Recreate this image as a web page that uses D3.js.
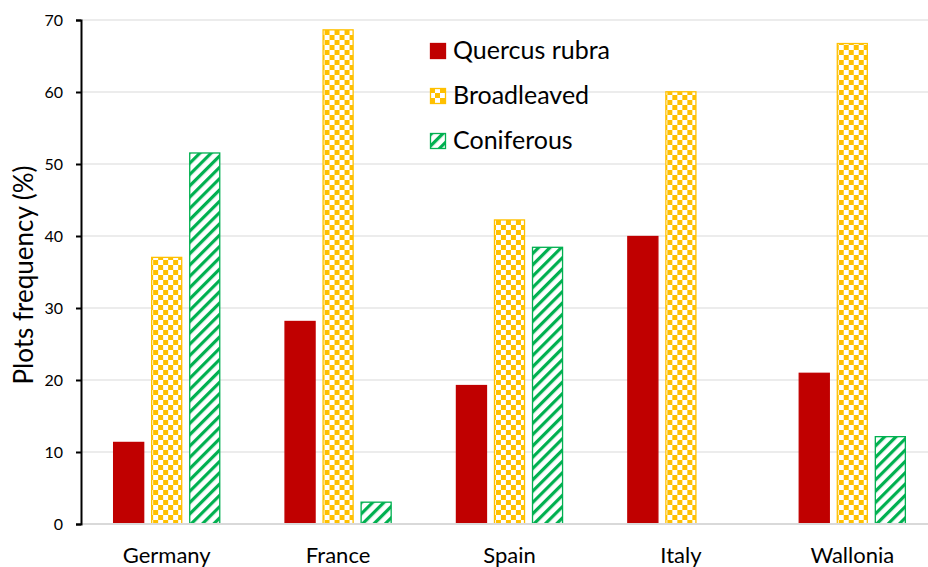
<!DOCTYPE html>
<html>
<head>
<meta charset="utf-8">
<script src="https://cdn.jsdelivr.net/npm/d3@7"></script>
<style>
    body { margin: 0; background: #fff; }
    text { font-family: Lato, "Open Sans", sans-serif; fill: #000; }
</style>
</head>
<body>
<svg id="chart" width="928" height="567"></svg>
<script>
const countries = ['Germany', 'France', 'Spain', 'Italy', 'Wallonia'];
const seriesNames = ['Quercus rubra', 'Broadleaved', 'Coniferous'];
const quercus = [11.4, 28.2, 19.3, 40.0, 21.0];
const broadleaved = [37.1, 68.7, 42.3, 60.1, 66.8];
const coniferous = [51.6, 3.1, 38.5, 0, 12.2];
const yTicks = [0, 10, 20, 30, 40, 50, 60, 70];

const values = [quercus, broadleaved, coniferous];
const fills = ['#C00000', 'url(#checks)', 'url(#stripes)'];
const strokes = ['#C00000', '#FFC000', '#00B050'];

const chart = d3.select('#chart');
const plotLeft = 81, plotRight = 938, plotTop = 20, plotBottom = 524;

const defs = chart.append('defs');
const checks = defs.append('pattern')
    .attr('id', 'checks')
    .attr('patternUnits', 'userSpaceOnUse')
    .attr('width', 10).attr('height', 10);
checks.append('rect').attr('width', 10).attr('height', 10).attr('fill', '#fff');
checks.append('rect').attr('width', 5).attr('height', 5).attr('fill', '#FFC000');
checks.append('rect').attr('x', 5).attr('y', 5).attr('width', 5).attr('height', 5).attr('fill', '#FFC000');

const stripes = defs.append('pattern')
    .attr('id', 'stripes')
    .attr('patternUnits', 'userSpaceOnUse')
    .attr('width', 8).attr('height', 8)
    .attr('patternTransform', 'rotate(45)');
stripes.append('rect').attr('width', 8).attr('height', 8).attr('fill', '#fff');
stripes.append('rect').attr('width', 3.2).attr('height', 8).attr('fill', '#00B050');

const y = d3.scaleLinear().domain([0, 70]).range([plotBottom, plotTop]);
const x = d3.scaleBand().domain(countries).range([plotLeft, plotRight])
    .paddingInner(0.375).paddingOuter(0.1875);
const xs = d3.scaleBand().domain(d3.range(3)).range([0, x.bandwidth()])
    .paddingInner(0.184).paddingOuter(0);

// gridlines
chart.append('g')
    .selectAll('line')
    .data(yTicks.slice(1))
    .enter().append('line')
    .attr('x1', plotLeft).attr('x2', 928)
    .attr('y1', d => y(d)).attr('y2', d => y(d))
    .attr('stroke', '#D9D9D9').attr('stroke-width', 1);

// bars
const group = chart.selectAll('g.country')
    .data(countries)
    .enter().append('g')
    .classed('country', true)
    .attr('transform', d => `translate(${x(d)},0)`);
group.selectAll('rect')
    .data((c, i) => values.map((v, s) => ({ s, v: v[i] })).filter(d => d.v > 0))
    .enter().append('rect')
    .attr('x', d => xs(d.s) + 0.5)
    .attr('y', d => y(d.v) + 0.5)
    .attr('width', xs.bandwidth() - 1)
    .attr('height', d => y(0) - y(d.v) - 0.5)
    .attr('fill', d => fills[d.s])
    .attr('stroke', d => strokes[d.s])
    .attr('stroke-width', 1.3);

// x baseline
chart.append('line')
    .attr('x1', plotLeft).attr('x2', 928)
    .attr('y1', plotBottom).attr('y2', plotBottom)
    .attr('stroke', '#D9D9D9').attr('stroke-width', 2);

// y axis
const yAxis = chart.append('g')
    .attr('transform', `translate(${plotLeft},0)`)
    .call(d3.axisLeft(y).tickValues(yTicks).tickSize(5).tickPadding(13));
yAxis.select('.domain').attr('stroke', '#000').attr('stroke-width', 2);
yAxis.selectAll('.tick line').attr('stroke', '#000').attr('stroke-width', 2);
yAxis.selectAll('.tick text').style('font-size', '16px').attr('fill', '#000');

// category labels
chart.append('g')
    .selectAll('text')
    .data(countries)
    .enter().append('text')
    .attr('x', d => x(d) + x.bandwidth() / 2)
    .attr('y', 563)
    .attr('text-anchor', 'middle')
    .style('font-size', '22px')
    .text(d => d);

// y title
chart.append('text')
    .attr('transform', 'translate(33,275) rotate(-90)')
    .attr('text-anchor', 'middle')
    .style('font-size', '26px')
    .text('Plots frequency (%)');

// legend
const legend = chart.append('g')
    .selectAll('g')
    .data(seriesNames)
    .enter().append('g')
    .attr('transform', (_, i) => `translate(430,${43 + i * 45})`);
legend.append('rect')
    .attr('x', 0.5).attr('y', 0.5)
    .attr('width', 15).attr('height', 15)
    .attr('fill', (_, i) => fills[i])
    .attr('stroke', (_, i) => strokes[i])
    .attr('stroke-width', 1.3);
legend.append('text')
    .attr('x', 23)
    .attr('y', 16)
    .style('font-size', '25px')
    .text(d => d);
</script>
</body>
</html>
